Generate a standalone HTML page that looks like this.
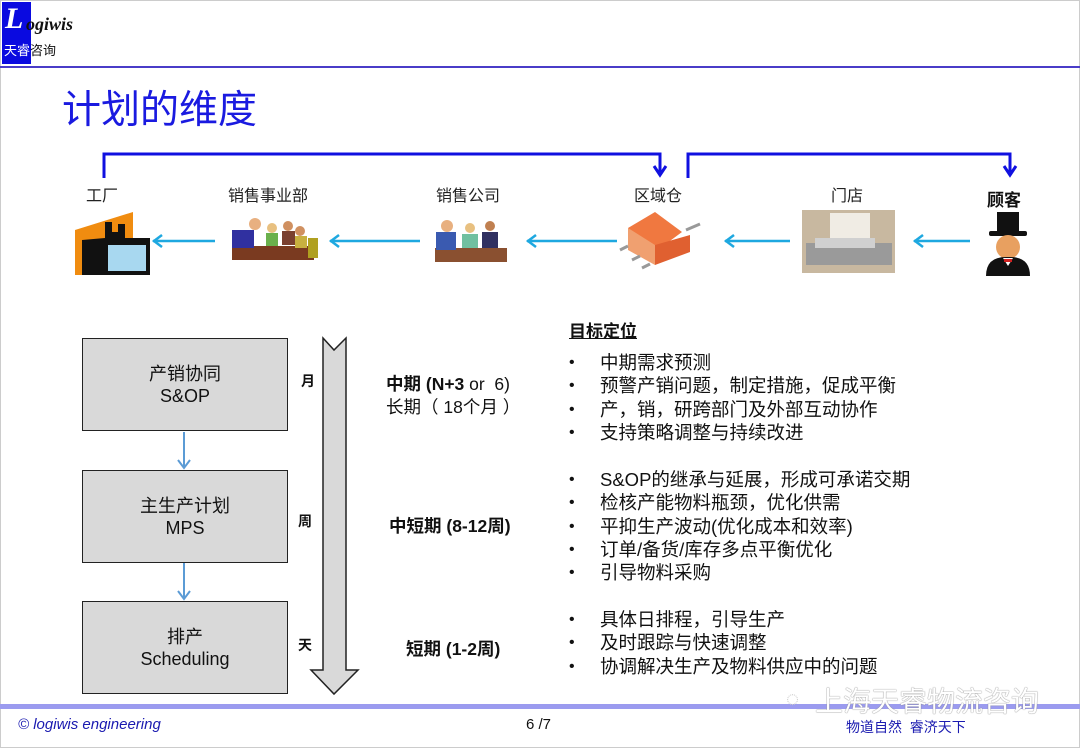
<!DOCTYPE html>
<html><head><meta charset="utf-8"><style>
*{margin:0;padding:0}
body{width:1080px;height:748px;position:relative;background:#fff;overflow:hidden;font-family:"Liberation Sans","Noto Sans CJK SC",sans-serif;color:#111}
.a{position:absolute;white-space:nowrap}
.box{position:absolute;left:82px;width:204px;height:91px;background:#d9d9d9;border:1.5px solid #222;text-align:center;font-size:18px;line-height:22px;display:flex;flex-direction:column;justify-content:center}
.lbl{font-size:16px;color:#222}
.bl{font-size:18.5px;line-height:23.3px}
.bl div{position:relative;padding-left:31px}
.bl div:before{content:"•";position:absolute;left:0;top:0;font-size:16px}
</style></head><body>
<div class="a" style="left:0;top:0;width:1080px;height:748px;border:1px solid #ccc;box-sizing:border-box"></div>
<div class="a" style="left:2px;top:2px;width:29px;height:62px;background:#0a0ae0"></div>
<div class="a" style="left:5px;top:4px;font-family:'Liberation Serif',serif;font-style:italic;font-weight:bold;font-size:30px;color:#fff;line-height:30px">L</div>
<div class="a" style="left:26px;top:14px;font-family:'Liberation Serif',serif;font-style:italic;font-weight:bold;font-size:18px;color:#111">ogiwis</div>
<div class="a" style="left:4px;top:40px;font-size:13px;color:#fff">天睿<span style="color:#111">咨询</span></div>
<div class="a" style="left:0;top:66px;width:1080px;height:2px;background:#4a3cc8"></div>
<div class="a" style="left:62px;top:87px;font-size:39px;color:#1a1ae0;line-height:48px">计划的维度</div>

<svg class="a" style="left:0;top:0" width="1080" height="748">
<g stroke="#1010e0" stroke-width="3" fill="none">
<polyline points="104,178 104,154 660,154 660,172"/>
<polyline points="654,166 660,175 666,166"/>
<polyline points="688,178 688,154 1010,154 1010,172"/>
<polyline points="1004,166 1010,175 1016,166"/>
</g>
<g stroke="#1ea8e0" stroke-width="2.5" fill="none">
<line x1="153" y1="241" x2="215" y2="241"/><polyline points="162,235 154,241 162,247"/>
<line x1="330" y1="241" x2="420" y2="241"/><polyline points="339,235 331,241 339,247"/>
<line x1="527" y1="241" x2="617" y2="241"/><polyline points="536,235 528,241 536,247"/>
<line x1="725" y1="241" x2="790" y2="241"/><polyline points="734,235 726,241 734,247"/>
<line x1="914" y1="241" x2="970" y2="241"/><polyline points="923,235 915,241 923,247"/>
</g>
<polygon points="75,230 133,212 133,275 75,275" fill="#f08c10"/>
<polygon points="82,275 82,240 105,238 105,222 112,222 112,232 118,232 118,224 125,224 125,238 150,238 150,275" fill="#111"/>
<rect x="108" y="245" width="38" height="26" fill="#a8d8f0"/>
<rect x="232" y="246" width="82" height="14" fill="#7a3a20"/>
<circle cx="255" cy="224" r="6" fill="#e8b080"/><rect x="232" y="230" width="22" height="18" fill="#3030a0"/>
<circle cx="272" cy="228" r="5" fill="#e8c080"/><rect x="266" y="233" width="12" height="13" fill="#6ab04c"/>
<circle cx="288" cy="226" r="5" fill="#d09060"/><rect x="282" y="231" width="13" height="14" fill="#7a4030"/>
<circle cx="300" cy="231" r="5" fill="#d09060"/><rect x="295" y="236" width="12" height="12" fill="#c8b040"/>
<rect x="308" y="238" width="10" height="20" fill="#b0a020"/>
<rect x="435" y="248" width="72" height="14" fill="#8a5030"/>
<circle cx="447" cy="226" r="6" fill="#e8b080"/><rect x="436" y="232" width="20" height="18" fill="#3a5ab0"/>
<circle cx="470" cy="228" r="5" fill="#e8c080"/><rect x="462" y="234" width="16" height="14" fill="#70c0a0"/>
<circle cx="490" cy="226" r="5" fill="#c08050"/><rect x="482" y="232" width="16" height="16" fill="#303060"/>
<polygon points="628,228 655,212 682,232 655,252" fill="#f07840"/>
<polygon points="628,228 655,245 655,265 628,250" fill="#f0a070"/>
<polygon points="655,245 690,235 690,252 655,265" fill="#e06030"/>
<g stroke="#999" stroke-width="3"><line x1="628" y1="246" x2="620" y2="250"/><line x1="640" y1="256" x2="632" y2="260"/><line x1="650" y1="264" x2="642" y2="268"/><line x1="686" y1="230" x2="700" y2="224"/></g>
<rect x="802" y="210" width="93" height="63" fill="#c8b8a0"/>
<rect x="830" y="213" width="40" height="30" fill="#f0ece4"/>
<rect x="806" y="243" width="86" height="22" fill="#9a9a9a"/>
<rect x="815" y="238" width="60" height="10" fill="#d0d0d0"/>
<rect x="997" y="212" width="22" height="22" fill="#111"/><rect x="989" y="231" width="38" height="5" rx="2" fill="#111"/>
<ellipse cx="1008" cy="247" rx="12" ry="12" fill="#e8a060"/>
<path d="M986,276 Q986,256 1008,257 Q1030,256 1030,276 Z" fill="#111"/>
<polygon points="1003,258 1013,258 1008,266" fill="#fff"/><rect x="1004" y="259" width="8" height="3" fill="#d02020"/>
<g stroke="#5b9bd5" stroke-width="2" fill="none">
<line x1="184" y1="432" x2="184" y2="468"/><polyline points="178,460 184,468 190,460"/>
<line x1="184" y1="563" x2="184" y2="599"/><polyline points="178,591 184,599 190,591"/>
</g>
<polygon points="323,338 334,350 346,338 346,670 358,670 334,694 311,670 323,670" fill="#d9d9d9" stroke="#222" stroke-width="1.5"/>
</svg>

<div class="a lbl" style="left:86px;top:182px">工厂</div>
<div class="a lbl" style="left:228px;top:182px">销售事业部</div>
<div class="a lbl" style="left:436px;top:182px">销售公司</div>
<div class="a lbl" style="left:634px;top:182px">区域仓</div>
<div class="a lbl" style="left:831px;top:182px">门店</div>
<div class="a" style="left:987px;top:186px;font-size:17px;font-weight:bold">顾客</div>

<div class="box" style="top:338px"><div>产销协同</div><div>S&amp;OP</div></div>
<div class="box" style="top:470px"><div>主生产计划</div><div>MPS</div></div>
<div class="box" style="top:601px"><div>排产</div><div>Scheduling</div></div>

<div class="a" style="left:301px;top:371px;font-size:14px;font-weight:bold">月</div>
<div class="a" style="left:298px;top:511px;font-size:14px;font-weight:bold">周</div>
<div class="a" style="left:298px;top:635px;font-size:14px;font-weight:bold">天</div>

<div class="a" style="left:386px;top:373px;font-size:17.5px;line-height:23px"><b>中期 (N+3</b> or &nbsp;6)<br>长期（ 18个月 ）</div>
<div class="a" style="left:389px;top:513px;font-size:17.5px;font-weight:bold">中短期 (8-12周)</div>
<div class="a" style="left:406px;top:636px;font-size:17.5px;font-weight:bold">短期 (1-2周)</div>

<div class="a" style="left:569px;top:317px;font-size:17px;font-weight:bold;text-decoration:underline">目标定位</div>
<div class="a bl" style="left:569px;top:351px"><div>中期需求预测</div><div>预警产销问题，制定措施，促成平衡</div><div>产，销，研跨部门及外部互动协作</div><div>支持策略调整与持续改进</div></div>
<div class="a bl" style="left:569px;top:468px"><div>S&amp;OP的继承与延展，形成可承诺交期</div><div>检核产能物料瓶颈，优化供需</div><div>平抑生产波动(优化成本和效率)</div><div>订单/备货/库存多点平衡优化</div><div>引导物料采购</div></div>
<div class="a bl" style="left:569px;top:608px"><div>具体日排程，引导生产</div><div>及时跟踪与快速调整</div><div>协调解决生产及物料供应中的问题</div></div>

<div class="a" style="left:0;top:704px;width:1080px;height:5px;background:#9b9bef"></div>
<div class="a" style="left:18px;top:716px;font-size:15px;font-style:italic;color:#1a1ab0">© logiwis engineering</div>
<div class="a" style="left:526px;top:716px;font-size:15px">6 /7</div>
<div class="a" style="left:846px;top:717px;font-size:14px;color:#1a1ab0">物道自然 &nbsp;睿济天下</div>
<div class="a" style="left:786px;top:686px;font-size:22px;color:#ccc">◌</div>
<div class="a" style="left:815px;top:680px;font-size:28px;color:#fff;text-shadow:0 0 1px #888,0 0 1px #888">上海天睿物流咨询</div>
</body></html>
